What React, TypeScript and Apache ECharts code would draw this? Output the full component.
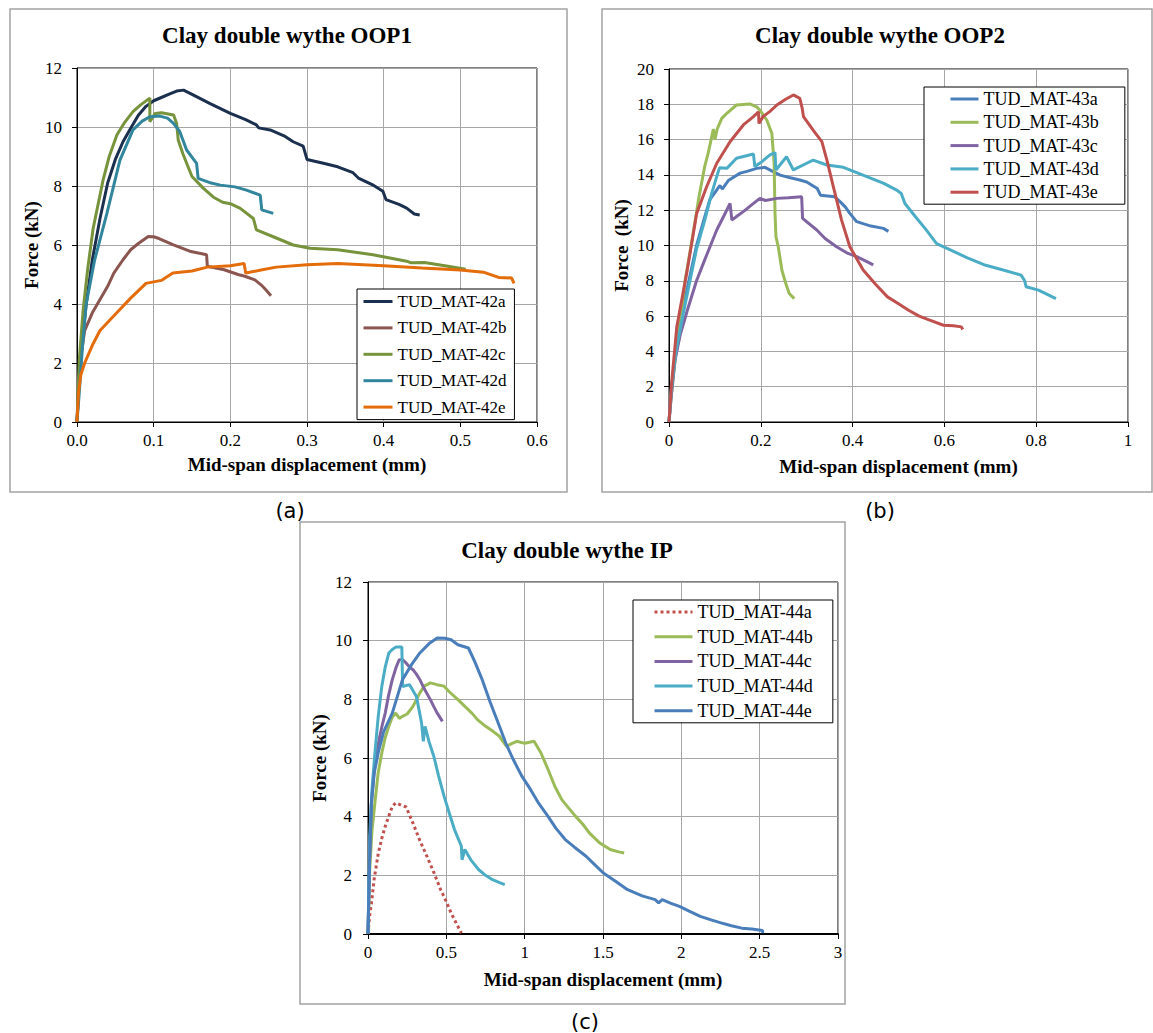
import React, { useEffect, useRef } from "react";
import * as echarts from "echarts";

const SERIF = '"Liberation Serif", "Times New Roman", serif';
const SANS = '"DejaVu Sans", Verdana, sans-serif';

// ---------- Panel (a): Clay double wythe OOP1 ----------
const namesA = ["TUD_MAT-42a", "TUD_MAT-42b", "TUD_MAT-42c", "TUD_MAT-42d", "TUD_MAT-42e"];
const colorsA = ["#1b2f4e", "#8b5550", "#77933c", "#31859c", "#e46c0a"];
const mat42a: number[][] = [[0,0],[0.003,1.5],[0.007,2.8],[0.012,4],[0.02,5.5],[0.03,6.9],[0.04,8.1],[0.05,8.9],[0.06,9.5],[0.071,10.0],[0.08,10.4],[0.09,10.7],[0.1,10.89],[0.11,11.0],[0.121,11.12],[0.13,11.22],[0.139,11.25],[0.152,11.08],[0.173,10.8],[0.2,10.46],[0.22,10.25],[0.234,10.07],[0.237,9.97],[0.252,9.9],[0.27,9.7],[0.282,9.5],[0.295,9.35],[0.3,8.9],[0.32,8.78],[0.34,8.65],[0.36,8.45],[0.367,8.27],[0.385,8.05],[0.399,7.82],[0.403,7.54],[0.42,7.38],[0.43,7.25],[0.44,7.05],[0.447,7.02]];
const mat42b: number[][] = [[0,0],[0.002,1.2],[0.005,2.2],[0.01,3.1],[0.02,3.7],[0.03,4.15],[0.04,4.6],[0.048,5.05],[0.06,5.5],[0.07,5.84],[0.08,6.05],[0.093,6.29],[0.1,6.28],[0.107,6.22],[0.125,6.01],[0.147,5.79],[0.169,5.67],[0.17,5.28],[0.192,5.16],[0.21,5.0],[0.219,4.94],[0.232,4.82],[0.24,4.65],[0.246,4.49],[0.253,4.28]];
const mat42c: number[][] = [[0,0],[0.003,2.1],[0.008,3.8],[0.014,5.2],[0.021,6.55],[0.034,8.2],[0.042,9.0],[0.052,9.73],[0.062,10.15],[0.073,10.52],[0.083,10.75],[0.095,10.98],[0.095,10.18],[0.102,10.46],[0.11,10.48],[0.126,10.41],[0.13,10.12],[0.132,9.56],[0.138,9.1],[0.143,8.77],[0.15,8.32],[0.165,7.92],[0.178,7.62],[0.19,7.45],[0.2,7.4],[0.213,7.24],[0.23,6.9],[0.234,6.51],[0.256,6.28],[0.282,6.0],[0.304,5.89],[0.34,5.84],[0.386,5.67],[0.408,5.56],[0.43,5.45],[0.435,5.4],[0.453,5.41],[0.48,5.3],[0.507,5.18]];
const mat42d: number[][] = [[0,0],[0.003,1.0],[0.007,2.5],[0.012,4.0],[0.023,5.49],[0.039,7.07],[0.056,8.88],[0.073,9.9],[0.085,10.2],[0.095,10.35],[0.108,10.37],[0.118,10.3],[0.126,10.12],[0.134,9.85],[0.143,9.22],[0.156,8.77],[0.158,8.26],[0.175,8.1],[0.187,8.03],[0.206,7.97],[0.221,7.86],[0.239,7.69],[0.241,7.19],[0.256,7.07]];
const mat42e: number[][] = [[0,0],[0.002,1.0],[0.005,1.6],[0.01,2.0],[0.02,2.6],[0.03,3.1],[0.05,3.65],[0.07,4.2],[0.09,4.7],[0.1,4.75],[0.11,4.8],[0.125,5.05],[0.15,5.12],[0.17,5.25],[0.2,5.3],[0.218,5.37],[0.22,5.05],[0.24,5.15],[0.26,5.25],[0.3,5.33],[0.34,5.37],[0.4,5.3],[0.45,5.22],[0.5,5.15],[0.53,5.08],[0.55,4.9],[0.567,4.88],[0.57,4.7]];
const dataA = [mat42a, mat42b, mat42c, mat42d, mat42e];

// ---------- Panel (b): Clay double wythe OOP2 ----------
const namesB = ["TUD_MAT-43a", "TUD_MAT-43b", "TUD_MAT-43c", "TUD_MAT-43d", "TUD_MAT-43e"];
const colorsB = ["#4a7ebb", "#9bbb59", "#8064a2", "#4bacc6", "#c0504d"];
const mat43a: number[][] = [[0,0],[0.005,1.8],[0.015,4.2],[0.03,6.5],[0.04,7.6],[0.06,10.0],[0.078,11.63],[0.089,12.6],[0.1,13.0],[0.111,13.4],[0.116,13.2],[0.13,13.7],[0.155,14.1],[0.17,14.2],[0.191,14.37],[0.209,14.43],[0.242,13.99],[0.262,13.85],[0.285,13.71],[0.3,13.6],[0.323,13.23],[0.33,12.85],[0.361,12.76],[0.372,12.5],[0.384,12.19],[0.394,11.82],[0.409,11.35],[0.44,11.1],[0.467,10.97],[0.478,10.8]];
const mat43b: number[][] = [[0,0],[0.005,1.5],[0.012,3.2],[0.024,5.6],[0.035,8.0],[0.05,10.3],[0.065,12.7],[0.078,14.5],[0.086,15.3],[0.0966,16.6],[0.1,16.0],[0.105,16.6],[0.115,17.2],[0.126,17.49],[0.147,17.96],[0.176,18.02],[0.191,17.86],[0.2,17.6],[0.213,17.11],[0.224,16.36],[0.229,14.66],[0.231,11.82],[0.233,10.5],[0.238,9.93],[0.246,8.6],[0.255,7.8],[0.262,7.28],[0.273,6.99]];
const mat43c: number[][] = [[0,0],[0.005,1.5],[0.013,3.5],[0.025,5.0],[0.04,6.33],[0.06,8.0],[0.078,9.2],[0.104,10.88],[0.12,11.7],[0.133,12.39],[0.137,11.44],[0.15,11.7],[0.162,11.92],[0.18,12.3],[0.198,12.67],[0.21,12.55],[0.235,12.67],[0.26,12.7],[0.289,12.76],[0.291,11.54],[0.322,10.88],[0.34,10.4],[0.365,9.93],[0.39,9.55],[0.409,9.37],[0.43,9.1],[0.445,8.9]];
const mat43d: number[][] = [[0,0],[0.005,1.8],[0.015,4.0],[0.03,6.0],[0.04,7.28],[0.06,9.8],[0.078,11.44],[0.093,12.95],[0.104,13.9],[0.11,14.4],[0.126,14.37],[0.147,14.94],[0.184,15.18],[0.187,14.47],[0.2,14.7],[0.22,15.13],[0.231,15.26],[0.233,14.28],[0.256,15.03],[0.271,14.28],[0.3,14.66],[0.314,14.84],[0.344,14.56],[0.38,14.43],[0.431,13.9],[0.468,13.52],[0.496,13.14],[0.506,12.95],[0.514,12.38],[0.537,11.63],[0.56,10.9],[0.583,10.11],[0.614,9.74],[0.65,9.3],[0.69,8.88],[0.73,8.6],[0.767,8.32],[0.775,8.0],[0.778,7.66],[0.805,7.47],[0.843,6.99]];
const mat43e: number[][] = [[0,0],[0.005,2.0],[0.017,5.39],[0.0385,8.42],[0.05,10.2],[0.0603,11.82],[0.082,13.33],[0.104,14.66],[0.133,15.88],[0.162,16.83],[0.184,17.3],[0.195,17.58],[0.196,16.92],[0.205,17.3],[0.22,17.6],[0.235,17.96],[0.255,18.3],[0.271,18.53],[0.285,18.34],[0.29,17.8],[0.293,17.3],[0.314,16.54],[0.333,15.88],[0.344,14.84],[0.358,13.33],[0.376,11.44],[0.394,9.93],[0.423,8.61],[0.45,7.8],[0.476,7.09],[0.5,6.7],[0.522,6.33],[0.545,6.0],[0.568,5.77],[0.598,5.48],[0.62,5.45],[0.637,5.39],[0.64,5.24]];
const dataB = [mat43a, mat43b, mat43c, mat43d, mat43e];

// ---------- Panel (c): Clay double wythe IP ----------
const namesC = ["TUD_MAT-44a", "TUD_MAT-44b", "TUD_MAT-44c", "TUD_MAT-44d", "TUD_MAT-44e"];
const colorsC = ["#c0504d", "#9bbb59", "#8064a2", "#4bacc6", "#4a7ebb"];
const mat44a: number[][] = [[0,0],[0.01,0.6],[0.022,1.06],[0.04,1.9],[0.066,2.76],[0.09,3.3],[0.11,3.67],[0.135,4.05],[0.155,4.35],[0.177,4.47],[0.2,4.42],[0.243,4.33],[0.287,3.78],[0.33,3.2],[0.376,2.65],[0.42,2.1],[0.464,1.51],[0.5,1.1],[0.53,0.72],[0.565,0.35],[0.596,0.03]];
const mat44b: number[][] = [[0,0],[0.011,2.19],[0.025,3.5],[0.044,4.47],[0.065,5.5],[0.088,6.17],[0.11,6.7],[0.133,7.08],[0.155,7.4],[0.177,7.53],[0.2,7.35],[0.22,7.42],[0.25,7.5],[0.287,7.76],[0.31,8.0],[0.331,8.22],[0.36,8.45],[0.398,8.56],[0.44,8.5],[0.486,8.45],[0.52,8.25],[0.574,7.99],[0.62,7.75],[0.663,7.53],[0.7,7.3],[0.751,7.08],[0.8,6.9],[0.839,6.74],[0.884,6.4],[0.92,6.5],[0.95,6.57],[1.0,6.5],[1.06,6.57],[1.104,6.17],[1.15,5.6],[1.193,5.03],[1.237,4.58],[1.28,4.3],[1.325,4.01],[1.37,3.75],[1.414,3.44],[1.45,3.25],[1.48,3.1],[1.546,2.88],[1.6,2.8],[1.635,2.76]];
const mat44c: number[][] = [[0,0],[0.01,2.5],[0.022,4.47],[0.04,5.6],[0.066,6.51],[0.09,7.1],[0.11,7.53],[0.13,8.1],[0.155,8.67],[0.18,9.1],[0.199,9.35],[0.22,9.35],[0.243,9.24],[0.265,9.1],[0.287,9.01],[0.31,8.85],[0.331,8.67],[0.36,8.35],[0.398,7.99],[0.42,7.75],[0.442,7.53],[0.475,7.25]];
const mat44d: number[][] = [[0,0],[0.011,3.33],[0.025,4.9],[0.044,6.17],[0.065,7.4],[0.088,8.44],[0.11,9.1],[0.133,9.58],[0.155,9.7],[0.177,9.78],[0.216,9.78],[0.221,8.44],[0.265,8.5],[0.309,8.1],[0.342,7.19],[0.353,6.57],[0.364,7.08],[0.39,6.55],[0.42,6.06],[0.45,5.4],[0.486,4.69],[0.52,4.1],[0.552,3.56],[0.596,2.99],[0.6,2.53],[0.618,2.88],[0.66,2.5],[0.707,2.19],[0.75,2.0],[0.795,1.85],[0.84,1.75],[0.873,1.68]];
const mat44e: number[][] = [[0,0],[0.01,2.5],[0.022,4.47],[0.04,5.5],[0.066,6.2],[0.1,6.9],[0.155,7.53],[0.22,8.67],[0.28,9.2],[0.331,9.58],[0.39,9.9],[0.442,10.09],[0.49,10.08],[0.53,10.03],[0.574,9.86],[0.641,9.75],[0.68,9.3],[0.729,8.67],[0.78,7.9],[0.839,7.08],[0.88,6.5],[0.928,5.94],[0.98,5.4],[1.038,4.92],[1.09,4.45],[1.149,4.01],[1.2,3.6],[1.259,3.22],[1.32,2.95],[1.392,2.65],[1.45,2.35],[1.502,2.08],[1.58,1.8],[1.657,1.51],[1.75,1.3],[1.833,1.17],[1.855,1.06],[1.878,1.17],[1.93,1.05],[1.988,0.94],[2.05,0.78],[2.121,0.6],[2.19,0.48],[2.253,0.38],[2.32,0.28],[2.386,0.2],[2.45,0.17],[2.518,0.12],[2.52,0.03]];
const dataC = [mat44a, mat44b, mat44c, mat44d, mat44e];

const titles = ["Clay double wythe OOP1", "Clay double wythe OOP2", "Clay double wythe IP"];
const panelLabels = ["(a)", "(b)", "(c)"];
const xName = "Mid-span displacement (mm)";
const yNames = ["Force (kN)", "Force  (kN)", "Force (kN)"];

function xAxis(gridIndex: number, max: number, interval: number, nameGap: number, fmt?: (v: number) => string, axisWidth = 1) {
  return {
    gridIndex, type: "value", min: 0, max, interval,
    name: xName, nameLocation: "middle", nameGap,
    nameTextStyle: { fontFamily: SERIF, fontWeight: "bold", fontSize: 19, color: "#000" },
    axisLine: { show: true, onZero: false, lineStyle: { color: "#000", width: axisWidth } },
    axisTick: { show: true, inside: false, length: 5, lineStyle: { color: "#000" } },
    axisLabel: { color: "#000", fontFamily: SERIF, fontSize: 17, margin: 10, formatter: fmt },
    splitLine: { show: true, lineStyle: { color: "#a6a6a6", width: 1 } },
  };
}
function yAxis(gridIndex: number, max: number, interval: number, name: string, nameGap: number, margin: number) {
  return {
    gridIndex, type: "value", min: 0, max, interval,
    name, nameLocation: "middle", nameGap,
    nameTextStyle: { fontFamily: SERIF, fontWeight: "bold", fontSize: 19, color: "#000" },
    axisLine: { show: true, onZero: false, lineStyle: { color: "#000", width: 1 } },
    axisTick: { show: true, inside: false, length: 5, lineStyle: { color: "#000" } },
    axisLabel: { color: "#000", fontFamily: SERIF, fontSize: 17, margin },
    splitLine: { show: true, lineStyle: { color: "#a6a6a6", width: 1 } },
  };
}

function makeSeries(names: string[], colors: string[], data: number[][][], axisIndex: number, dotted?: number) {
  return names.map((n, i) => ({
    name: n, type: "line", xAxisIndex: axisIndex, yAxisIndex: axisIndex,
    data: data[i], symbol: "none", showSymbol: false,
    lineStyle: { color: colors[i], width: 3, type: dotted === i ? "dotted" : "solid" },
    itemStyle: { color: colors[i] },
  }));
}

function legend(names: string[], left: number, top: number, itemWidth: number, itemGap: number, padding: number[], fontSize: number) {
  return {
    data: names, orient: "vertical", left, top, itemWidth, itemHeight: 16, itemGap, padding,
    borderColor: "#000", borderWidth: 1, backgroundColor: "#fff", selectedMode: false,
    itemStyle: { opacity: 0 },
    lineStyle: { width: 3 },
    textStyle: { fontFamily: SERIF, fontSize, color: "#000" },
  };
}

function textEl(text: string, x: number, y: number, font: string, size: number, weight: string) {
  return { type: "text", x, y, z: 100, style: { text, fill: "#000", fontFamily: font, fontSize: size, fontWeight: weight, align: "center", verticalAlign: "middle" } };
}
function frameEl(x: number, y: number, w: number, h: number) {
  return { type: "rect", z: 0, shape: { x, y, width: w, height: h }, style: { fill: "none", stroke: "#a3a3a3", lineWidth: 1.5 } };
}

export default function App() {
  const ref = useRef<HTMLDivElement>(null);
  useEffect(() => {
    const chart = echarts.init(ref.current!, null, { renderer: "svg", width: 1153, height: 1033 });
    const option: any = {
      animation: false,
      backgroundColor: "#fff",
      grid: [
        { left: 77, top: 68, width: 460, height: 354, show: true, borderColor: "#000", borderWidth: 1, backgroundColor: "transparent" },
        { left: 669, top: 69, width: 459, height: 353, show: true, borderColor: "#000", borderWidth: 1, backgroundColor: "transparent" },
        { left: 368, top: 582, width: 470, height: 352, show: true, borderColor: "#000", borderWidth: 1, backgroundColor: "transparent" },
      ],
      xAxis: [
        xAxis(0, 0.6, 0.1, 33, (v: number) => v.toFixed(1)),
        xAxis(1, 1, 0.2, 35),
        xAxis(2, 3, 0.5, 36, undefined, 2),
      ],
      yAxis: [
        yAxis(0, 12, 2, yNames[0], 35, 15),
        yAxis(1, 20, 2, yNames[1], 38, 15),
        yAxis(2, 12, 2, yNames[2], 39, 16),
      ],
      legend: [
        legend(namesA, 357, 289, 29, 9.4, [4, 8, 4, 5], 17),
        legend(namesB, 924, 87, 28, 5.3, [3, 26, 3, 25], 18),
        legend(namesC, 633, 600, 38, 6.7, [3, 20, 3, 20], 18),
      ],
      graphic: [
        frameEl(10, 9, 557, 483),
        frameEl(602, 9, 550, 483),
        frameEl(300, 522, 545, 482),
        textEl(titles[0], 287, 35, SERIF, 23, "bold"),
        textEl(titles[1], 880, 35, SERIF, 23, "bold"),
        textEl(titles[2], 567, 550, SERIF, 23, "bold"),
        textEl(panelLabels[0], 290, 511, SANS, 21, "normal"),
        textEl(panelLabels[1], 880, 511, SANS, 21, "normal"),
        textEl(panelLabels[2], 585, 1022, SANS, 21, "normal"),
      ],
      series: [
        ...makeSeries(namesA, colorsA, dataA, 0),
        ...makeSeries(namesB, colorsB, dataB, 1),
        ...makeSeries(namesC, colorsC, dataC, 2, 0),
      ],
    };
    chart.setOption(option);
    return () => chart.dispose();
  }, []);
  return <div ref={ref} style={{ position: "absolute", left: 0, top: 0, width: 1153, height: 1033, background: "#fff" }} />;
}
